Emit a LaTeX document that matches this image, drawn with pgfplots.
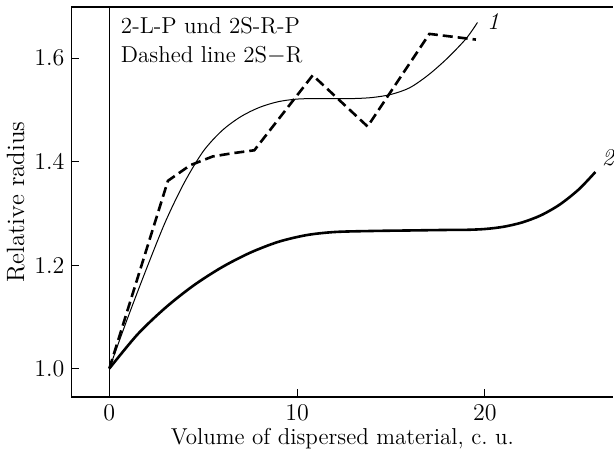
\documentclass[border=0pt]{standalone}
\usepackage{fontspec}
\usepackage{pgfplots}
\pgfplotsset{compat=1.18}
\begin{document}
\begin{tikzpicture}
\begin{axis}[
  scale only axis,
  width=271pt, height=195pt,
  xmin=-2.02, xmax=26.84,
  ymin=0.945, ymax=1.699,
  axis x line=box, axis y line=left,
  y axis line style={-},
  axis line style={line width=0.6pt},
  xtick={0,10,20}, ytick={1.0,1.2,1.4,1.6},
  xtick pos=bottom, ytick pos=left,
  tick align=inside,
  major tick length=4pt,
  tick style={line width=0.5pt, black},
  /pgf/number format/assume math mode=true,
  yticklabel style={/pgf/number format/.cd, fixed, fixed zerofill, precision=1, assume math mode=true},
  tick label style={font=\fontsize{12}{14}\selectfont},
  xlabel style={font=\fontsize{11.5}{14}\selectfont, yshift=3pt},
  ylabel style={font=\fontsize{12.5}{15}\selectfont, yshift=-2pt},
  xlabel={Volume of dispersed material, c.\ u.},
  ylabel={Relative radius},
  clip=false,
]
% vertical line at x = 0
\addplot[black, line width=0.5pt] coordinates {(0,0.945) (0,1.699)};
% curve 1 (thin)
\addplot[black, line width=0.5pt, smooth] coordinates {
(0,1.0) (1,1.10) (2,1.195) (3,1.285) (4,1.36) (5,1.42) (6,1.46) (7,1.487) (8,1.505) (9,1.516) (10,1.521) (11,1.522) (12,1.522) (13,1.522) (14,1.524) (15,1.53) (16,1.543) (17,1.568) (18,1.600) (19,1.638) (19.6,1.669)};
% dashed 2S-R
\addplot[black, line width=1.3pt, dash pattern=on 5pt off 2.5pt] coordinates {
(0,1.0) (3.12,1.363) (4.3,1.393) (5.5,1.41) (6.5,1.416) (7.72,1.422) (10.83,1.567) (13.75,1.468) (17.04,1.647) (19.52,1.636)};
% curve 2 (thick)
\addplot[black, line width=1.3pt, smooth] coordinates {
(0,1.0) (1.5,1.066) (3,1.118) (4.5,1.161) (6,1.196) (7.5,1.224) (9,1.245) (10.5,1.258) (12,1.264) (14,1.266) (16,1.267) (18,1.268) (19,1.2682) (20,1.2698) (21,1.2742) (22,1.2827) (23,1.2966) (24,1.3175) (25,1.3465) (25.88,1.38)};
\node[font=\fontsize{12}{14}\selectfont\itshape, anchor=south west, inner sep=0pt] at (axis cs:20.1,1.655) {1};
\node[font=\fontsize{12}{14}\selectfont\itshape, anchor=south west, inner sep=0pt] at (axis cs:26.2,1.39) {2};
\node[font=\fontsize{11.5}{14.5}\selectfont, anchor=north west, align=left, inner sep=0pt] at (axis cs:0.6,1.680) {2-L-P und 2S-R-P\\Dashed line 2S$-$R};
\end{axis}
\path ([yshift=3.5pt]current axis.north east);
\end{tikzpicture}
\end{document}
